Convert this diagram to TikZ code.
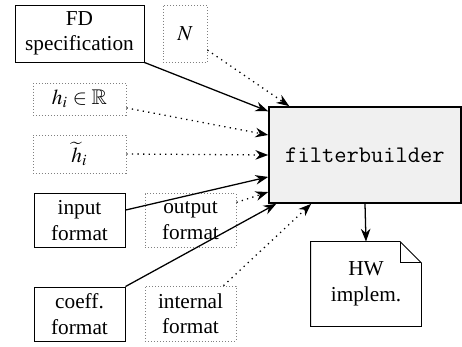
\documentclass[tikz,border=0pt]{standalone}
\usepackage{amsmath, amssymb}
\usepackage{mathptmx}
\usepackage[no-math]{fontspec}
\setmainfont{Liberation Serif}
\usepackage{tikz}
\usetikzlibrary{arrows.meta}

\tikzset{
  inbox/.style={draw, thin, align=center, inner sep=1pt},
  optbox/.style={draw=gray, densely dotted, align=center, inner sep=1pt},
  must/.style={semithick, -{Stealth[length=6pt, width=4.5pt]}},
  opt/.style={semithick, dotted, -{Stealth[length=6pt, width=4.5pt]}},
}

\begin{document}
\begin{tikzpicture}[x=0.47pt, y=-0.47pt]
        \useasboundingbox (0, 0) rectangle (462, 347);

        % inputs
        \node[inbox, minimum width=60.6pt, minimum height=26.8pt] (fd) at (79.5, 33.5) {FD\\specification};
        \node[optbox, minimum width=20.7pt, minimum height=26.8pt] (nn) at (185, 33.5) {$N$};
        \node[optbox, minimum width=43.7pt, minimum height=15pt] (hr) at (79.5, 99) {$h_i \in \mathbb{R}$};
        \node[optbox, minimum width=43.7pt, minimum height=17.9pt] (ht) at (79.5, 154) {$\widetilde{h}_i$};
        \node[inbox, minimum width=42.8pt, minimum height=25.6pt] (inp) at (79.5, 220.5) {input\\format};
        \node[optbox, minimum width=42.8pt, minimum height=25pt] (outp) at (190.5, 220.5) {output\\format};
        \node[inbox, minimum width=42.8pt, minimum height=25.4pt] (coef) at (79.5, 314) {coeff.\\format};
        \node[optbox, minimum width=42.8pt, minimum height=25.8pt] (intf) at (190.5, 313.5) {internal\\format};

        % generator
        \node[draw, thick, fill=black!6, minimum width=90.2pt, minimum height=45.1pt,
            font=\ttfamily\fontsize{11.2}{13}\selectfont] (fb) at (365, 155) {filterbuilder};

        % output
        \node[align=center, minimum width=51.7pt, minimum height=39.5pt] (hw) at (366, 284) {HW\\implem.};
        \draw[thin] (hw.north west) -- ([xshift=-10pt]hw.north east) -- ([yshift=-10pt]hw.north east)
            -- (hw.south east) -- (hw.south west) -- cycle;
        \draw[thin] ([xshift=-10pt]hw.north east) |- ([yshift=-10pt]hw.north east);

        \draw[opt] ([yshift=-7.8pt]nn.east) -- ([xshift=9.9pt]fb.north west);
        \draw[must] (fd.south east) -- ([yshift=-2.4pt]fb.north west);
        \draw[opt] ([yshift=-4.2pt]hr.east) -- ([yshift=9.4pt]fb.west);
        \draw[opt] (ht.east) -- (fb.west);
        \draw[must] ([yshift=4.9pt]inp.east) -- ([yshift=-10.3pt]fb.west);
        \draw[opt] ([yshift=8.5pt]outp.east) -- ([yshift=-17.4pt]fb.west);
        \draw[must] (coef.north east) -- ([xshift=3.8pt]fb.south west);
        \draw[opt] ([xshift=-6.1pt]intf.north east) -- ([xshift=20.2pt]fb.south west);
        \draw[must] (fb.south) -- (hw.north);
\end{tikzpicture}
\end{document}
